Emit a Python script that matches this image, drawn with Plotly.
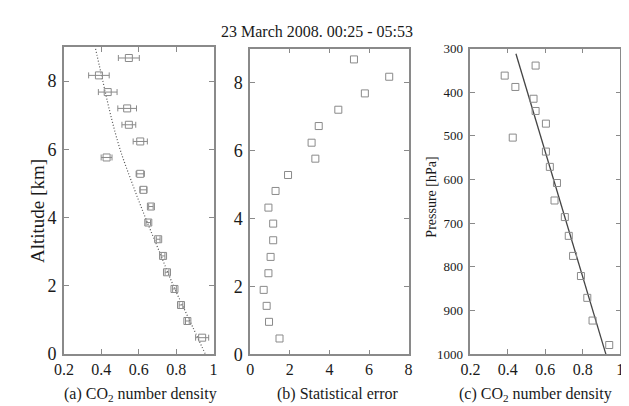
import plotly.graph_objects as go

# ---------------- data ----------------
altitude_km = [8.68, 8.17, 7.68, 7.20, 6.72, 6.23, 5.76, 5.28, 4.81, 4.32,
               3.85, 3.36, 2.87, 2.39, 1.90, 1.43, 0.96, 0.47]
co2_density_a = [0.547, 0.387, 0.434, 0.538, 0.547, 0.608, 0.428, 0.608, 0.625, 0.665,
                 0.651, 0.704, 0.730, 0.751, 0.791, 0.826, 0.860, 0.939]
co2_err_a = [0.056, 0.055, 0.050, 0.050, 0.037, 0.038, 0.029, 0.022, 0.018, 0.012,
             0.012, 0.010, 0.010, 0.010, 0.010, 0.010, 0.010, 0.035]

model_alt_km = [0, 1, 2, 3, 4, 5, 6, 7, 8, 9]
model_density = [0.955, 0.870, 0.785, 0.710, 0.635, 0.565, 0.500, 0.450, 0.408, 0.367]

stat_error = [5.24, 7.02, 5.79, 4.45, 3.46, 3.10, 3.29, 1.91, 1.28, 0.92,
              1.16, 1.16, 1.03, 0.92, 0.68, 0.83, 0.95, 1.48]

pressure_hpa = [339, 362, 388, 415, 443, 472, 504, 536, 571, 608,
                648, 686, 729, 775, 821, 871, 923, 979]
co2_density_c = [0.548, 0.383, 0.440, 0.537, 0.548, 0.603, 0.426, 0.603, 0.624, 0.662,
                 0.649, 0.704, 0.725, 0.748, 0.790, 0.824, 0.852, 0.941]
fit_pressure = [312, 1000]
fit_density = [0.443, 0.923]

x_ticks_density = [0.2, 0.4, 0.6, 0.8, 1.0]
x_ticktext_density = ["0.2", "0.4", "0.6", "0.8", "1"]
alt_ticks = [0, 2, 4, 6, 8]
err_ticks = [0, 2, 4, 6, 8]
p_ticks = [300, 400, 500, 600, 700, 800, 900, 1000]

title_text = "23 March 2008. 00:25 - 05:53"
xlabel_a = "(a) CO<sub>2</sub> number density"
xlabel_b = "(b) Statistical error"
xlabel_c = "(c) CO<sub>2</sub> number density"
ylabel_a = "Altitude [km]"
ylabel_c = "Pressure [hPa]"

# ---------------- styles ----------------
W, H = 629, 406
FONT = "Liberation Serif"
FRAME = "#8a8a8a"
MARK = "#8a8a8a"
TXT = "#1a1a1a"

def px_x(x):
    return x / W

def px_y(y):
    return 1 - y / H

fig = go.Figure()

marker_style = dict(symbol="square-open", size=7, color=MARK, line=dict(width=1, color=MARK))

# panel a
fig.add_trace(go.Scatter(x=model_density, y=model_alt_km, mode="lines",
                         line=dict(color="#555555", width=1.2, dash="1px,2px", shape="spline"),
                         xaxis="x", yaxis="y", showlegend=False))
fig.add_trace(go.Scatter(x=co2_density_a, y=altitude_km, mode="markers",
                         marker=marker_style,
                         error_x=dict(type="data", array=co2_err_a, color=MARK, thickness=1, width=3),
                         xaxis="x", yaxis="y", showlegend=False))
# panel b
fig.add_trace(go.Scatter(x=stat_error, y=altitude_km, mode="markers", marker=marker_style,
                         xaxis="x2", yaxis="y2", showlegend=False))
# panel c
fig.add_trace(go.Scatter(x=fit_density, y=fit_pressure, mode="lines",
                         line=dict(color="#444444", width=1.3),
                         xaxis="x3", yaxis="y3", showlegend=False))
fig.add_trace(go.Scatter(x=co2_density_c, y=pressure_hpa, mode="markers", marker=marker_style,
                         xaxis="x3", yaxis="y3", showlegend=False))

axis_common = dict(showline=True, linecolor=FRAME, linewidth=1.5, mirror="ticks",
                   ticks="inside", ticklen=5, tickcolor=FRAME, tickwidth=1,
                   showgrid=False, zeroline=False, fixedrange=True)

fig.update_layout(
    width=W, height=H, autosize=False,
    margin=dict(l=0, r=0, t=0, b=0),
    paper_bgcolor="white", plot_bgcolor="white",
    font=dict(family=FONT, color=TXT, size=15),
    xaxis=dict(axis_common, domain=[px_x(47), px_x(200)], range=[0.2, 1.0],
               tickvals=x_ticks_density, ticktext=x_ticktext_density,
               tickfont=dict(size=16), anchor="y"),
    yaxis=dict(axis_common, domain=[px_y(353.5), px_y(33.5)], range=[0, 9],
               tickvals=alt_ticks, tickfont=dict(size=18), anchor="x", ticklabelstandoff=2),
    xaxis2=dict(axis_common, domain=[px_x(237.5), px_x(399.5)], range=[0, 8],
                tickvals=err_ticks, tickfont=dict(size=16), anchor="y2"),
    yaxis2=dict(axis_common, domain=[px_y(354.3), px_y(35)], range=[0, 9],
                tickvals=alt_ticks, tickfont=dict(size=18), anchor="x2", ticklabelstandoff=2),
    xaxis3=dict(axis_common, domain=[px_x(462.7), px_x(616)], range=[0.2, 1.0],
                tickvals=x_ticks_density, ticktext=x_ticktext_density,
                tickfont=dict(size=16), anchor="y3"),
    yaxis3=dict(axis_common, domain=[px_y(354), px_y(35)], range=[1000, 300],
                tickvals=p_ticks, tickfont=dict(size=13), anchor="x3", ticklabelstandoff=3),
)

ann = dict(showarrow=False, xref="paper", yref="paper", font=dict(family=FONT, color=TXT))
fig.add_annotation(ann, text=title_text, x=px_x(306), y=px_y(17), xanchor="center", yanchor="middle",
                   font=dict(family=FONT, size=16, color=TXT))
fig.add_annotation(ann, text=xlabel_a, x=px_x(125), y=px_y(396), xanchor="center", yanchor="middle",
                   font=dict(family=FONT, size=16, color=TXT))
fig.add_annotation(ann, text=xlabel_b, x=px_x(327), y=px_y(396), xanchor="center", yanchor="middle",
                   font=dict(family=FONT, size=16, color=TXT))
fig.add_annotation(ann, text=xlabel_c, x=px_x(529), y=px_y(396), xanchor="center", yanchor="middle",
                   font=dict(family=FONT, size=16, color=TXT))
fig.add_annotation(ann, text=ylabel_a, x=px_x(20), y=px_y(205), xanchor="center", yanchor="middle",
                   textangle=-90, font=dict(family=FONT, size=19, color=TXT))
fig.add_annotation(ann, text=ylabel_c, x=px_x(422), y=px_y(190), xanchor="center", yanchor="middle",
                   textangle=-90, font=dict(family=FONT, size=14, color=TXT))

fig.write_html("out.html")
